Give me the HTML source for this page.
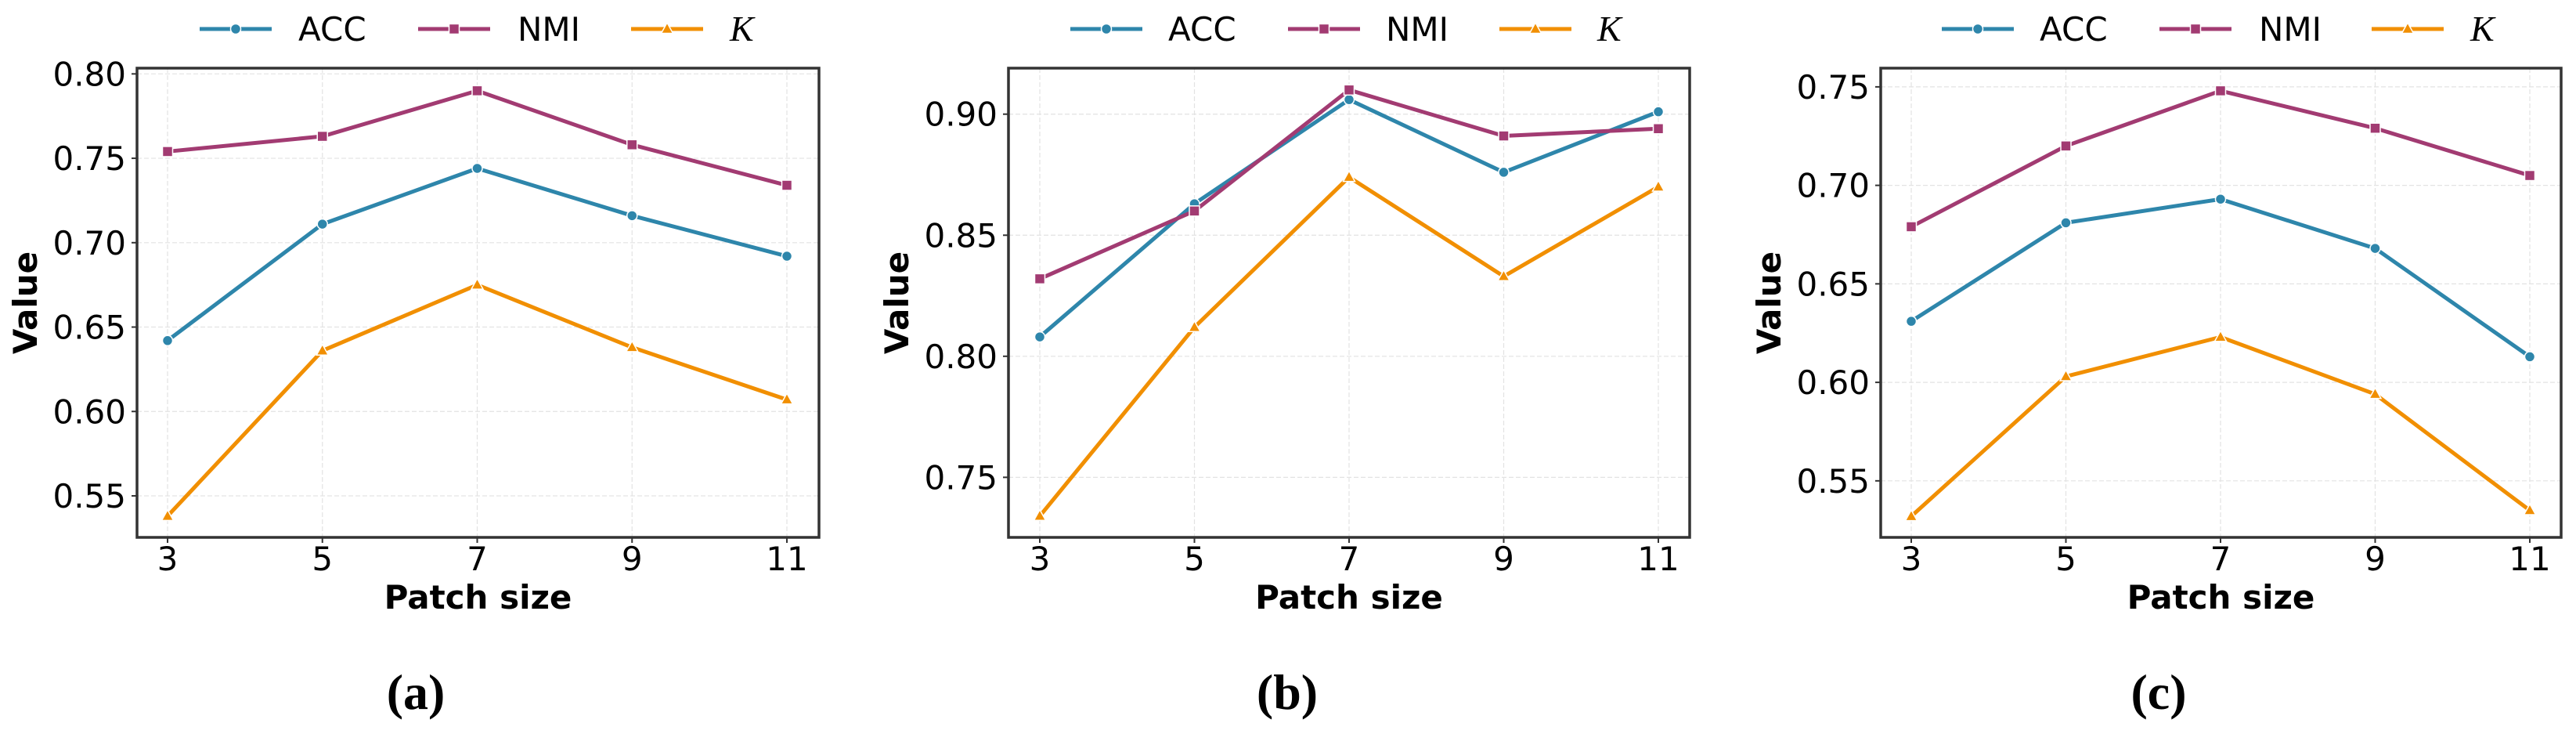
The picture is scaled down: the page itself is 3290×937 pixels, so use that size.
<!DOCTYPE html>
<html><head><meta charset="utf-8">
<style>
html,body{margin:0;padding:0;background:#fff;}
svg{display:block;}
</style></head>
<body>
<svg id="fig" width="3290" height="937" viewBox="0 0 3290 937" xmlns="http://www.w3.org/2000/svg"></svg>
<script>
const categories = [3, 5, 7, 9, 11];
const seriesNames = ["ACC", "NMI", "K"];
const accA = [0.642, 0.711, 0.744, 0.716, 0.692];
const nmiA = [0.754, 0.763, 0.790, 0.758, 0.734];
const kapA = [0.538, 0.636, 0.675, 0.638, 0.607];
const accB = [0.808, 0.863, 0.906, 0.876, 0.901];
const nmiB = [0.832, 0.860, 0.910, 0.891, 0.894];
const kapB = [0.734, 0.812, 0.874, 0.833, 0.870];
const accC = [0.631, 0.681, 0.693, 0.668, 0.613];
const nmiC = [0.679, 0.720, 0.748, 0.729, 0.705];
const kapC = [0.532, 0.603, 0.623, 0.594, 0.535];
const ticksA = [0.55, 0.60, 0.65, 0.70, 0.75, 0.80];
const ticksB = [0.75, 0.80, 0.85, 0.90];
const ticksC = [0.55, 0.60, 0.65, 0.70, 0.75];
const panelLabels = ["(a)", "(b)", "(c)"];

const NS = "http://www.w3.org/2000/svg";
const svg = document.getElementById('fig');
const colors = ["#2E86AB", "#A23B72", "#F18F01"];
function mk(tag, attrs, parent) {
  const e = document.createElementNS(NS, tag);
  for (const k in attrs) e.setAttribute(k, attrs[k]);
  (parent || svg).appendChild(e);
  return e;
}
function marker(g, type, x, y, c) {
  let m;
  if (type === 0) m = mk('circle', {cx: x, cy: y, r: 6.5, fill: c, stroke: '#fff', 'stroke-width': 1.5}, g);
  else if (type === 1) m = mk('rect', {x: x - 6.5, y: y - 6.5, width: 13, height: 13, fill: c, stroke: '#fff', 'stroke-width': 1.5}, g);
  else m = mk('polygon', {points: `${x},${y-8} ${x+7.5},${y+5.5} ${x-7.5},${y+5.5}`, fill: c, stroke: '#fff', 'stroke-width': 1.5}, g);
  return m;
}
const panels = [
  {L:175, R:1046, T:87, B:686, x0:214, x1:1005, ymin:0.5254, ymax:0.8034, ticks:ticksA, data:[accA,nmiA,kapA], leg:[255,381,534,661,806,932], lab:531},
  {L:1288, R:2158, T:87, B:686, x0:1328, x1:2118, ymin:0.7252, ymax:0.9190, ticks:ticksB, data:[accB,nmiB,kapB], leg:[1367,1492,1645,1770,1915,2040], lab:1644},
  {L:2402, R:3271, T:87, B:686, x0:2441, x1:3231, ymin:0.5213, ymax:0.7595, ticks:ticksC, data:[accC,nmiC,kapC], leg:[2480,2605,2758,2885,3029,3155], lab:2757}
];
panels.forEach((p, pi) => {
  const g = mk('g', {});
  
  
  const xs = i => p.x0 + (p.x1 - p.x0) * (categories[i] - categories[0]) / (categories[categories.length-1] - categories[0]);
  const ys = v => p.B - (v - p.ymin) / (p.ymax - p.ymin) * (p.B - p.T);
  categories.forEach((c, i) => {
    const l = mk('line', {x1: xs(i), x2: xs(i), y1: p.T, y2: p.B, stroke: '#e3e3e3', 'stroke-width': 1.2, 'stroke-dasharray': '6,3'}, g);
    
    
    const t = mk('text', {x: xs(i), y: p.B + 42, 'text-anchor': 'middle', 'font-family': 'DejaVu Sans, sans-serif', 'font-size': 42, fill: '#000'}, g);
    t.textContent = c;
    
    
    mk('line', {x1: xs(i), x2: xs(i), y1: p.B, y2: p.B + 7, stroke: '#333', 'stroke-width': 2}, g);
  });
  p.ticks.forEach(v => {
    const l = mk('line', {x1: p.L, x2: p.R, y1: ys(v), y2: ys(v), stroke: '#e3e3e3', 'stroke-width': 1.2, 'stroke-dasharray': '6,3'}, g);
    
    
    mk('line', {x1: p.L - 7, x2: p.L, y1: ys(v), y2: ys(v), stroke: '#333', 'stroke-width': 2}, g);
    const t = mk('text', {x: p.L - 14, y: ys(v) + 15, 'text-anchor': 'end', 'font-family': 'DejaVu Sans, sans-serif', 'font-size': 42, fill: '#000'}, g);
    t.textContent = v.toFixed(2);
    
    
  });
  p.data.forEach((arr, si) => {
    const pts = arr.map((v, i) => xs(i) + ',' + ys(v)).join(' ');
    const pl = mk('polyline', {points: pts, fill: 'none', stroke: colors[si], 'stroke-width': 5, 'stroke-linejoin': 'round'}, g);
    
    
    arr.forEach((v, i) => {
      const m = marker(g, si, xs(i), ys(v), colors[si]);
      
      
    });
  });
  const fr = mk('rect', {x: p.L, y: p.T, width: p.R - p.L, height: p.B - p.T, fill: 'none', stroke: '#333', 'stroke-width': 3.5}, g);
  
  
  const xt = mk('text', {x: (p.L + p.R) / 2, y: 777, 'text-anchor': 'middle', 'font-family': 'DejaVu Sans, sans-serif', 'font-weight': 'bold', 'font-size': 42, fill: '#000'}, g);
  xt.textContent = 'Patch size';
  
  
  const yc = p.L - 128, ym = (p.T + p.B) / 2;
  const yt = mk('text', {x: yc, y: ym, 'text-anchor': 'middle', transform: `rotate(-90 ${yc} ${ym})`, 'font-family': 'DejaVu Sans, sans-serif', 'font-weight': 'bold', 'font-size': 42, fill: '#000'}, g);
  yt.textContent = 'Value';
  
  
  for (let si = 0; si < 3; si++) {
    const lx = p.leg[si*2], tx = p.leg[si*2+1];
    const lg = mk('g', {}, g);
    
    
    mk('line', {x1: lx, x2: lx + 92, y1: 37, y2: 37, stroke: colors[si], 'stroke-width': 5}, lg);
    marker(lg, si, lx + 46, 37, colors[si]);
    const t = mk('text', {x: tx, y: 52, 'font-family': si === 2 ? 'Liberation Serif, serif' : 'DejaVu Sans, sans-serif', 'font-style': si === 2 ? 'italic' : 'normal', 'font-size': si === 2 ? 46 : 42, fill: '#000'}, lg);
    t.textContent = si === 2 ? 'K' : seriesNames[si];
  }
  const pl = mk('text', {x: p.lab, y: 905, 'text-anchor': 'middle', 'font-family': 'Liberation Serif, serif', 'font-weight': 'bold', 'font-size': 64, fill: '#000'}, g);
  pl.textContent = panelLabels[pi];
  
  
});
</script>
</body></html>
